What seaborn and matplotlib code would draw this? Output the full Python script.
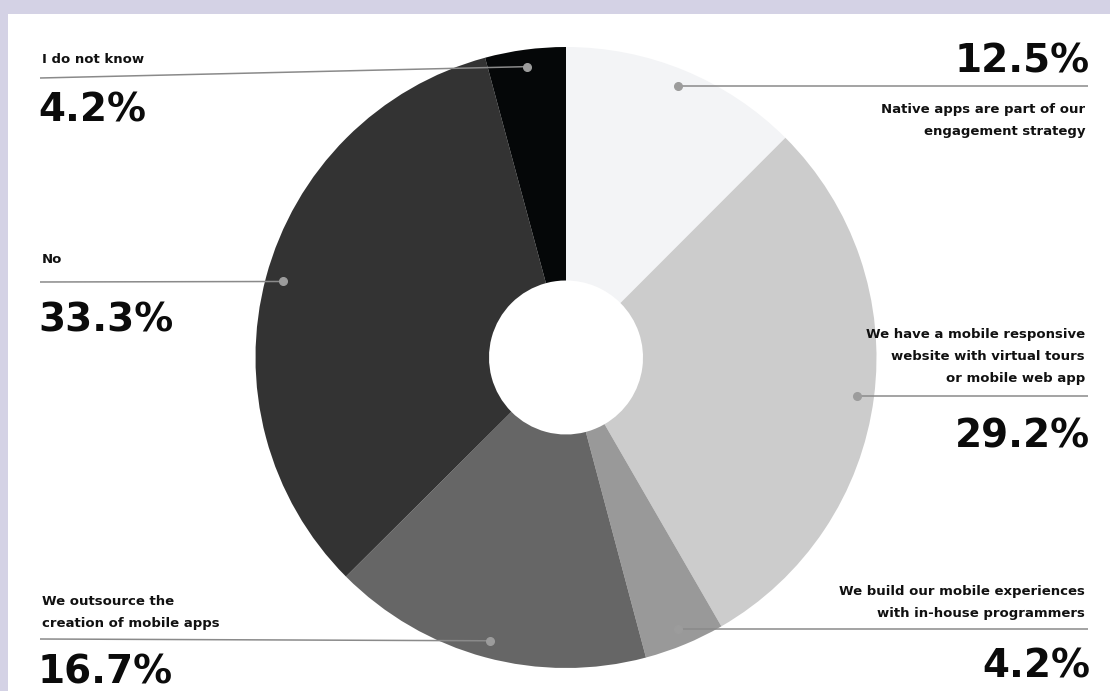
import numpy as np
import seaborn as sns
import matplotlib.pyplot as plt
from matplotlib.patches import Rectangle

sns.set_style("white")
plt.rcParams["font.family"] = ["DejaVu Sans"]

# data (clockwise from 12 o'clock)
labels = [
    "Native apps are part of our\nengagement strategy",
    "We have a mobile responsive\nwebsite with virtual tours\nor mobile web app",
    "We build our mobile experiences\nwith in-house programmers",
    "We outsource the\ncreation of mobile apps",
    "No",
    "I do not know",
]
shares = [12.5, 29.2, 4.2, 16.7, 33.3, 4.2]
pct_text = ["12.5%", "29.2%", "4.2%", "16.7%", "33.3%", "4.2%"]
colors = ["#f3f4f6", "#cccccc", "#999999", "#666666", "#333333", "#050708"]

W, H = 1110, 691
fig = plt.figure(figsize=(W / 100, H / 100), dpi=100, facecolor="#d4d2e5")
ax = fig.add_axes([0, 0, 1, 1])

def py(y):
    # pixel row (from top) -> data y
    return H - y

# white panel
ax.add_patch(Rectangle((8, 0), W - 8, H - 14, facecolor="white", edgecolor="none", zorder=0))

cx, cy, R, hole = 566, py(357.5), 310.5, 77
wedges, _ = ax.pie(shares, colors=colors, startangle=90, counterclock=False,
                   center=(cx, cy), radius=R, frame=True,
                   wedgeprops=dict(width=R - hole, edgecolor="none", linewidth=0))
ax.set_xlim(0, W)
ax.set_ylim(0, H)
ax.set_aspect("equal")
ax.axis("off")

# layout per slice: side, line end x, line end y (px), label baselines, pct baseline
layout = [
    dict(side="right", lx=1088, ly=None, text_y=113, pct_y=72),
    dict(side="right", lx=1088, ly=None, text_y=338, pct_y=448),
    dict(side="right", lx=1088, ly=None, text_y=595, pct_y=677),
    dict(side="left", lx=40, ly=639, text_y=605, pct_y=683),
    dict(side="left", lx=40, ly=282, text_y=263, pct_y=331),
    dict(side="left", lx=40, ly=78, text_y=63, pct_y=121),
]

line_c = "#8a8a8a"
dot_c = "#9c9c9c"
for w, lab, pct, lo in zip(wedges, labels, pct_text, layout):
    mid = np.deg2rad((w.theta1 + w.theta2) / 2)
    dx = cx + 0.945 * R * np.cos(mid)
    dy = cy + 0.945 * R * np.sin(mid)
    ey = dy if lo["ly"] is None else py(lo["ly"])
    ax.plot([dx, lo["lx"]], [dy, ey], color=line_c, lw=1.1, zorder=3,
            solid_capstyle="butt")
    ax.plot(dx, dy, "o", color=dot_c, ms=5.5, zorder=4)

    if lo["side"] == "right":
        tx, ha, px_ = 1085, "right", 1090
    else:
        tx, ha, px_ = 42, "left", 38
    for i, line in enumerate(lab.split("\n")):
        ax.text(tx, py(lo["text_y"] + i * 22), line, ha=ha, va="baseline",
                fontsize=9.5, fontweight="bold", color="#111111")
    ax.text(px_, py(lo["pct_y"]), pct, ha=ha, va="baseline",
            fontsize=28, fontweight="bold", color="#0b0b0b")

plt.savefig("out.png", dpi=100, facecolor=fig.get_facecolor())
